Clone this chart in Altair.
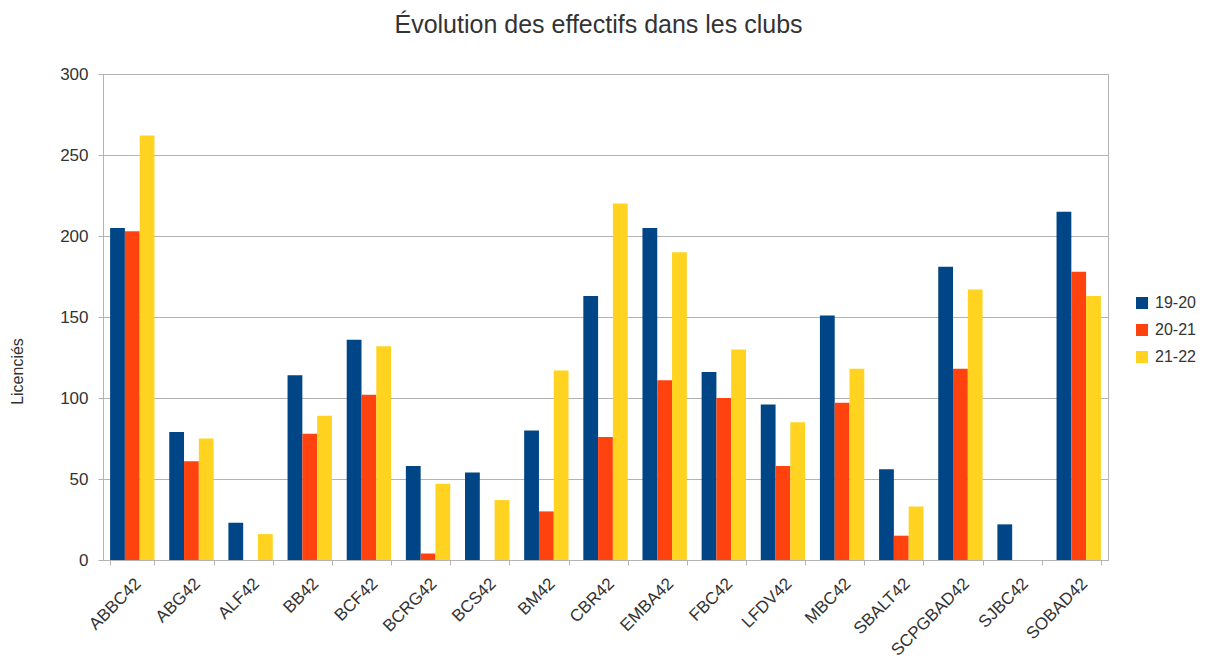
import altair as alt
import pandas as pd

clubs = ["ABBC42", "ABG42", "ALF42", "BB42", "BCF42", "BCRG42", "BCS42", "BM42", "CBR42",
         "EMBA42", "FBC42", "LFDV42", "MBC42", "SBALT42", "SCPGBAD42", "SJBC42", "SOBAD42"]
s1920 = [205, 79, 23, 114, 136, 58, 54, 80, 163, 205, 116, 96, 151, 56, 181, 22, 215]
s2021 = [203, 61, 0, 78, 102, 4, 0, 30, 76, 111, 100, 58, 97, 15, 118, 0, 178]
s2122 = [262, 75, 16, 89, 132, 47, 37, 117, 220, 190, 130, 85, 118, 33, 167, 0, 163]
seasons = ["19-20", "20-21", "21-22"]
colors = ["#004586", "#ff420e", "#ffd320"]

rows = []
for i, c in enumerate(clubs):
    for s, vals in zip(seasons, [s1920, s2021, s2122]):
        rows.append({"Club": c, "Saison": s, "Licenciés": vals[i]})
df = pd.DataFrame(rows)

font = "Liberation Sans"

chart = alt.Chart(df).mark_bar().encode(
    x=alt.X("Club:N", sort=clubs, title=None,
            scale=alt.Scale(paddingInner=0.25, paddingOuter=0.12),
            axis=alt.Axis(labelAngle=-45, labelFontSize=17, labelFont=font, labelColor="#333333",
                          tickBand="extent", tickSize=5, tickColor="#b3b3b3", domainColor="#b3b3b3",
                          labelPadding=10, grid=False)),
    xOffset=alt.XOffset("Saison:N", sort=seasons),
    y=alt.Y("Licenciés:Q", title="Licenciés",
            scale=alt.Scale(domain=[0, 300]),
            axis=alt.Axis(values=[0, 50, 100, 150, 200, 250, 300], labelFontSize=17, labelFont=font,
                          labelColor="#333333", tickSize=5, tickColor="#b3b3b3", domainColor="#b3b3b3",
                          gridColor="#b3b3b3", labelPadding=10, titleFont=font, titleFontSize=16,
                          titleFontWeight="normal", titleColor="#333333", titleX=-78, titleY=297,
                          titleAngle=-90)),
    color=alt.Color("Saison:N", sort=seasons,
                    scale=alt.Scale(domain=seasons, range=colors),
                    legend=alt.Legend(title=None, orient="none", legendX=1031, legendY=221,
                                      symbolType="square", symbolSize=144, symbolStrokeWidth=0,
                                      labelFontSize=16, labelFont=font, labelColor="#333333",
                                      rowPadding=11, labelOffset=5)),
).properties(
    width=1005, height=486,
    title=alt.TitleParams("Évolution des effectifs dans les clubs", font=font, fontSize=25,
                          fontWeight="normal", color="#333333", offset=27, anchor="middle", dx=-7),
    autosize=alt.AutoSizeParams(type="none"),
    padding={"left": 95, "top": 66, "right": 90, "bottom": 100},
).configure_view(stroke="#b3b3b3", strokeWidth=1)

chart.save("out.html", embed_options={"renderer": "svg", "actions": False})
